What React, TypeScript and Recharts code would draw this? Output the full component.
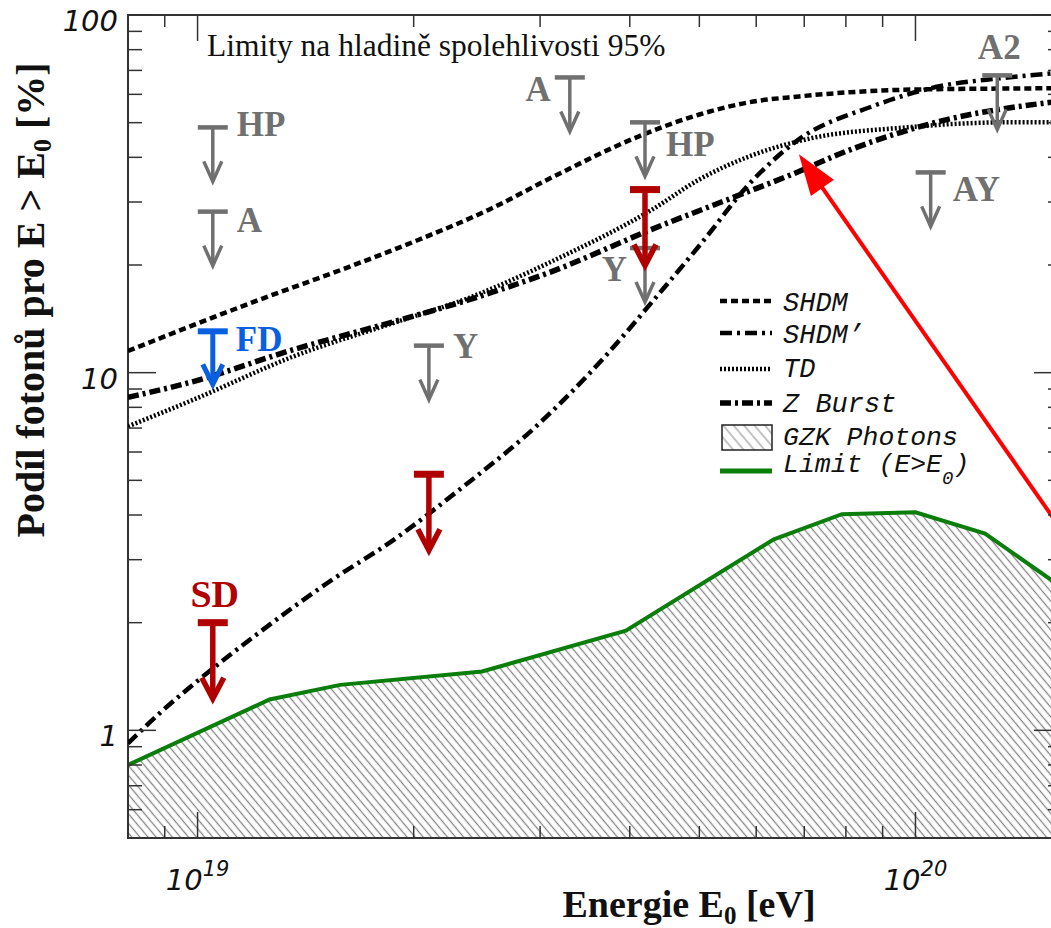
import React from "react";
import {
  ComposedChart,
  Line,
  Area,
  Scatter,
  XAxis,
  YAxis,
  ReferenceArea,
  ReferenceLine,
  Legend,
  Customized,
} from "recharts";

// energie E0 [eV] a podíl fotonů [%]
const SHDM_E = [8.0e18, 1.22e19, 1.63e19, 2.04e19, 2.55e19, 3.12e19, 4.12e19, 5.0e19, 5.86e19, 6.88e19, 8.08e19, 1.0e20, 1.6e20];
const SHDM_F = [11.5, 16.0, 19.8, 23.6, 28.6, 35.2, 45.8, 52.7, 57.0, 59.2, 60.8, 61.9, 62.4];

const SHDM2_E = [8.0e18, 8.87e18, 1.02e19, 1.22e19, 1.52e19, 1.88e19, 2.32e19, 2.99e19, 3.74e19, 4.3e19, 5.04e19, 5.86e19, 6.88e19, 8.7e19, 1.08e20, 1.31e20, 1.6e20];
const SHDM2_F = [0.92, 1.12, 1.42, 1.88, 2.59, 3.42, 4.72, 7.2, 11.4, 15.8, 23.1, 33.6, 44.9, 55.5, 63.2, 66.5, 69.0];

const TD_E = [8.0e18, 9.89e18, 1.36e19, 1.88e19, 2.39e19, 3.12e19, 4.3e19, 5.0e19, 5.86e19, 7.04e19, 9.7e19, 1.34e20, 1.6e20];
const TD_F = [7.08, 8.42, 11.1, 13.8, 16.2, 20.5, 28.6, 34.7, 40.2, 44.9, 48.5, 50.1, 50.1];

const ZB_E = [8.0e18, 9.89e18, 1.36e19, 1.88e19, 2.39e19, 3.12e19, 4.3e19, 5.62e19, 6.88e19, 7.82e19, 1.08e20, 1.6e20];
const ZB_F = [8.53, 9.46, 11.6, 13.9, 16.0, 19.2, 25.2, 31.1, 36.5, 40.8, 50.4, 57.5];

// GZK fotony, limit (E > E0)
const GZK_E = [8.0e18, 1.26e19, 1.58e19, 2.49e19, 3.95e19, 6.35e19, 7.9e19, 1.0e20, 1.25e20, 1.6e20];
const GZK_F = [0.8, 1.22, 1.34, 1.46, 1.9, 3.42, 4.02, 4.07, 3.55, 2.51];

// horní limity experimentů (95 %)
const GRAY_NAMES = ["HP", "A", "Y", "A", "HP", "Y", "AY", "A2"];
const GRAY_E = [1.05e19, 1.05e19, 2.1e19, 3.3e19, 4.2e19, 4.2e19, 1.05e20, 1.3e20];
const GRAY_F = [48.5, 28.2, 11.9, 66.9, 50.1, 22.3, 36.3, 67.8];

const RED_NAMES = ["SD", "", ""];
const RED_E = [1.05e19, 2.1e19, 4.2e19];
const RED_F = [2.0, 5.2, 32.5];

const BLUE_NAMES = ["FD"];
const BLUE_E = [1.05e19];
const BLUE_F = [13.05];

const X_TICKS = [9e18, 1e19, 2e19, 3e19, 4e19, 5e19, 6e19, 7e19, 8e19, 9e19, 1e20];
const X_MAJOR = [1e19, 1e20];
const Y_TICKS = [0.6, 0.7, 0.8, 0.9, 1, 2, 3, 4, 5, 6, 7, 8, 9, 10, 20, 30, 40, 50, 60, 70, 80, 90, 100];
const Y_MAJOR = [1, 10, 100];

const ARROW_TIP = { x: 6.88e19, y: 40.8 };
const ARROW_TAIL = { x: 1.6e20, y: 3.62 };

const pts = (es: number[], fs: number[]) => es.map((e, i) => ({ e, f: fs[i] }));
const limits = (names: string[], es: number[], fs: number[]) =>
  es.map((e, i) => ({ e, f: fs[i], name: names[i], idx: i }));

const shdm = pts(SHDM_E, SHDM_F);
const shdm2 = pts(SHDM2_E, SHDM2_F);
const td = pts(TD_E, TD_F);
const zburst = pts(ZB_E, ZB_F);
const gzk = pts(GZK_E, GZK_F);

// layout
const W = 1100;
const H = 928;
const PLOT_W = 934;
const PLOT_H = 823;
const AXIS = "#333333";
const GRAY = "#707070";
const RED = "#b00000";
const BLUE = "#0a5fe0";
const GREEN = "#0b7d0b";
const SERIF = "'Liberation Serif', 'Times New Roman', serif";
const MONO = "'Liberation Mono', 'Courier New', monospace";

// label offsets [dx, dy, anchor] relative to the limit bar
const GRAY_LABELS: [number, number, string][] = [
  [24, 9, "start"],
  [24, 20, "start"],
  [24, 12, "start"],
  [-19, 24, "end"],
  [21, 34, "start"],
  [-18, 33, "end"],
  [22, 29, "start"],
  [2, -16, "middle"],
];
const RED_LABELS: [number, number, string][] = [[2, -16, "middle"], [0, 0, "start"], [0, 0, "start"]];
const BLUE_LABELS: [number, number, string][] = [[23, 20, "start"]];

const DASH = {
  shdm: "7 4",
  shdm2: "12 5 3 5",
  td: "2 2",
  zburst: "11 4 3 4",
};

type LimitStyle = {
  color: string;
  bar: number;
  stem: number;
  len: number;
  headW: number;
  headH: number;
  font: number;
};

const makeLimitShape = (st: LimitStyle, layout: [number, number, string][]) => (props: any) => {
  const { cx, cy, payload } = props;
  if (cx == null || cy == null) return <g />;
  const [dx, dy, anchor] = layout[payload.idx];
  const tip = cy + st.len;
  return (
    <g>
      <line x1={cx - 15} x2={cx + 15} y1={cy} y2={cy} stroke={st.color} strokeWidth={st.bar} />
      <line x1={cx} x2={cx} y1={cy} y2={tip - 2} stroke={st.color} strokeWidth={st.stem} />
      <polyline
        points={`${cx - st.headW},${tip - st.headH} ${cx},${tip} ${cx + st.headW},${tip - st.headH}`}
        fill="none"
        stroke={st.color}
        strokeWidth={st.stem}
      />
      {payload.name ? (
        <text
          x={cx + dx}
          y={cy + dy}
          textAnchor={anchor as any}
          fontFamily={SERIF}
          fontWeight="bold"
          fontSize={st.font}
          fill={st.color}
        >
          {payload.name}
        </text>
      ) : null}
    </g>
  );
};

const grayShape = makeLimitShape(
  { color: GRAY, bar: 4.5, stem: 3.5, len: 54, headW: 9, headH: 20, font: 35 },
  GRAY_LABELS
);
const redShape = makeLimitShape(
  { color: RED, bar: 7, stem: 5.5, len: 76, headW: 11, headH: 21, font: 38 },
  RED_LABELS
);
const blueShape = makeLimitShape(
  { color: BLUE, bar: 6, stem: 5, len: 53, headW: 10, headH: 20, font: 35 },
  BLUE_LABELS
);

const XTick = (props: any) => {
  const { x, y, payload } = props;
  const v = payload.value;
  const major = X_MAJOR.some((m) => Math.abs(m - v) / m < 1e-6);
  const len = major ? 26 : 12;
  return (
    <g>
      <line x1={x} x2={x} y1={y} y2={y - len} stroke={AXIS} strokeWidth={1.5} />
      <line x1={x} x2={x} y1={y - PLOT_H} y2={y - PLOT_H + len} stroke={AXIS} strokeWidth={1.5} />
      {major ? (
        <text
          x={x}
          y={y + 52}
          textAnchor="middle"
          fontFamily="'DejaVu Sans'"
          fontStyle="italic"
          fontSize={29}
          fill="#111"
        >
          10
          <tspan dy={-14} fontSize={21}>
            {Math.round(Math.log10(v))}
          </tspan>
        </text>
      ) : null}
    </g>
  );
};

const YTick = (props: any) => {
  const { x, y, payload } = props;
  const v = payload.value;
  const major = Y_MAJOR.some((m) => Math.abs(m - v) / m < 1e-6);
  const len = major ? 28 : 14;
  return (
    <g>
      <line x1={x} x2={x + len} y1={y} y2={y} stroke={AXIS} strokeWidth={1.5} />
      <line x1={x + PLOT_W} x2={x + PLOT_W - len} y1={y} y2={y} stroke={AXIS} strokeWidth={1.5} />
      {major ? (
        <text
          x={x - 10}
          y={y + 16}
          textAnchor="end"
          fontFamily="'DejaVu Sans'"
          fontStyle="italic"
          fontSize={29}
          fill="#111"
        >
          {v}
        </text>
      ) : null}
    </g>
  );
};

const ArrowShape = (p: any) => {
  const { x1, y1, x2, y2 } = p;
  const dx = x2 - x1;
  const dy = y2 - y1;
  const L = Math.hypot(dx, dy) || 1;
  const ux = dx / L;
  const uy = dy / L;
  const bx = x1 + ux * 41;
  const by = y1 + uy * 41;
  const nx = -uy;
  const ny = ux;
  return (
    <g>
      <line x1={bx - ux * 3} y1={by - uy * 3} x2={x2} y2={y2} stroke="#ff0000" strokeWidth={4} />
      <polygon
        points={`${x1},${y1} ${bx + nx * 14},${by + ny * 14} ${bx - nx * 14},${by - ny * 14}`}
        fill="#ff0000"
      />
    </g>
  );
};

const LEGEND_ITEMS = [
  { name: "SHDM", dash: DASH.shdm, width: 4.5 },
  { name: "SHDM\u2019", dash: DASH.shdm2, width: 4.5 },
  { name: "TD", dash: DASH.td, width: 4.5 },
  { name: "Z Burst", dash: DASH.zburst, width: 5.5 },
];
const LEGEND_ROWS = [16, 48, 84, 118];
const LEGEND_TEXT = [26, 58, 92, 127];

const LegendBox = () => (
  <svg width={340} height={210} style={{ display: "block", overflow: "visible" }}>
    <defs>
      <pattern id="legendHatch" width="8" height="8" patternUnits="userSpaceOnUse" patternTransform="rotate(-40)">
        <line x1="4" y1="0" x2="4" y2="8" stroke="#9a9a9a" strokeWidth="1.2" />
      </pattern>
    </defs>
    {LEGEND_ITEMS.map((it, i) => (
      <g key={it.name}>
        <line
          x1={5}
          x2={57}
          y1={LEGEND_ROWS[i]}
          y2={LEGEND_ROWS[i]}
          stroke="#000"
          strokeWidth={it.width}
          strokeDasharray={it.dash}
        />
        <text x={68} y={LEGEND_TEXT[i]} fontFamily={MONO} fontStyle="italic" fontSize={27} fill="#111">
          {it.name}
        </text>
      </g>
    ))}
    <rect x={7} y={140} width={50} height={25} fill="url(#legendHatch)" stroke="#222" strokeWidth={1.5} />
    <text x={68} y={160} fontFamily={MONO} fontStyle="italic" fontSize={26.5} fill="#111">
      GZK Photons
    </text>
    <line x1={5} x2={57} y1={186} y2={186} stroke={GREEN} strokeWidth={5} />
    <text x={68} y={187} fontFamily={MONO} fontStyle="italic" fontSize={26.5} fill="#111">
      Limit (E&gt;E
      <tspan dy={12} fontSize={19}>
        0
      </tspan>
      <tspan dy={-12}>)</tspan>
    </text>
  </svg>
);

const Texts = () => (
  <g>
    <text x={207} y={56} fontFamily={SERIF} fontSize={31.5} fill="#111">
      Limity na hladině spolehlivosti 95%
    </text>
    <text x={689} y={917} textAnchor="middle" fontFamily={SERIF} fontWeight="bold" fontSize={38} fill="#111">
      Energie E
      <tspan dy={7} fontSize={25}>
        0
      </tspan>
      <tspan dy={-7}> [eV]</tspan>
    </text>
    <text
      x={0}
      y={0}
      transform="translate(44,300) rotate(-90)"
      textAnchor="middle"
      fontFamily={SERIF}
      fontWeight="bold"
      fontSize={40}
      fill="#111"
    >
      Podíl fotonů pro E &gt; E
      <tspan dy={7} fontSize={26}>
        0
      </tspan>
      <tspan dy={-7}> [%]</tspan>
    </text>
  </g>
);

export default function App() {
  return (
    <div
      style={{
        position: "absolute",
        left: 0,
        top: 0,
        width: 1051,
        height: 928,
        overflow: "hidden",
        background: "#fff",
      }}
    >
      <ComposedChart width={W} height={H} margin={{ top: 15, right: 38, bottom: 30, left: 68 }}>
        <defs>
          <pattern id="gzkHatch" width="6.2" height="6.2" patternUnits="userSpaceOnUse" patternTransform="rotate(-40)">
            <line x1="3.1" y1="0" x2="3.1" y2="6.2" stroke="#858585" strokeWidth="1.3" />
          </pattern>
        </defs>
        <XAxis
          dataKey="e"
          type="number"
          scale="log"
          domain={[8e18, 1.6e20]}
          allowDataOverflow
          ticks={X_TICKS}
          interval={0}
          tickSize={0}
          tickMargin={0}
          tickLine={false}
          axisLine={false}
          height={60}
          tick={<XTick />}
        />
        <YAxis
          type="number"
          scale="log"
          domain={[0.5, 100]}
          allowDataOverflow
          ticks={Y_TICKS}
          interval={0}
          tickSize={0}
          tickMargin={0}
          tickLine={false}
          axisLine={false}
          width={60}
          tick={<YTick />}
        />
        <Area
          data={gzk}
          dataKey="f"
          type="linear"
          baseValue={0.5}
          stroke={GREEN}
          strokeWidth={4}
          fill="url(#gzkHatch)"
          fillOpacity={1}
          isAnimationActive={false}
          dot={false}
          activeDot={false}
        />
        <Line data={shdm} dataKey="f" type="monotone" stroke="#000" strokeWidth={4.5} strokeDasharray={DASH.shdm} dot={false} activeDot={false} isAnimationActive={false} />
        <Line data={shdm2} dataKey="f" type="monotone" stroke="#000" strokeWidth={4.5} strokeDasharray={DASH.shdm2} dot={false} activeDot={false} isAnimationActive={false} />
        <Line data={td} dataKey="f" type="monotone" stroke="#000" strokeWidth={4.5} strokeDasharray={DASH.td} dot={false} activeDot={false} isAnimationActive={false} />
        <Line data={zburst} dataKey="f" type="monotone" stroke="#000" strokeWidth={5.5} strokeDasharray={DASH.zburst} dot={false} activeDot={false} isAnimationActive={false} />
        <Scatter data={limits(GRAY_NAMES, GRAY_E, GRAY_F)} dataKey="f" shape={grayShape} isAnimationActive={false} />
        <Scatter data={limits(RED_NAMES, RED_E, RED_F)} dataKey="f" shape={redShape} isAnimationActive={false} />
        <Scatter data={limits(BLUE_NAMES, BLUE_E, BLUE_F)} dataKey="f" shape={blueShape} isAnimationActive={false} />
        <ReferenceArea
          x1={8e18}
          x2={1.6e20}
          y1={0.5}
          y2={100}
          fill="none"
          fillOpacity={0}
          stroke={AXIS}
          strokeWidth={2}
          ifOverflow="visible"
        />
        <ReferenceLine segment={[ARROW_TIP, ARROW_TAIL]} ifOverflow="visible" shape={ArrowShape} />
        <Customized component={Texts} />
        <Legend
          layout="vertical"
          align="center"
          verticalAlign="middle"
          wrapperStyle={{ left: 715, top: 285, width: 340, height: 210 }}
          content={() => <LegendBox />}
        />
      </ComposedChart>
    </div>
  );
}
